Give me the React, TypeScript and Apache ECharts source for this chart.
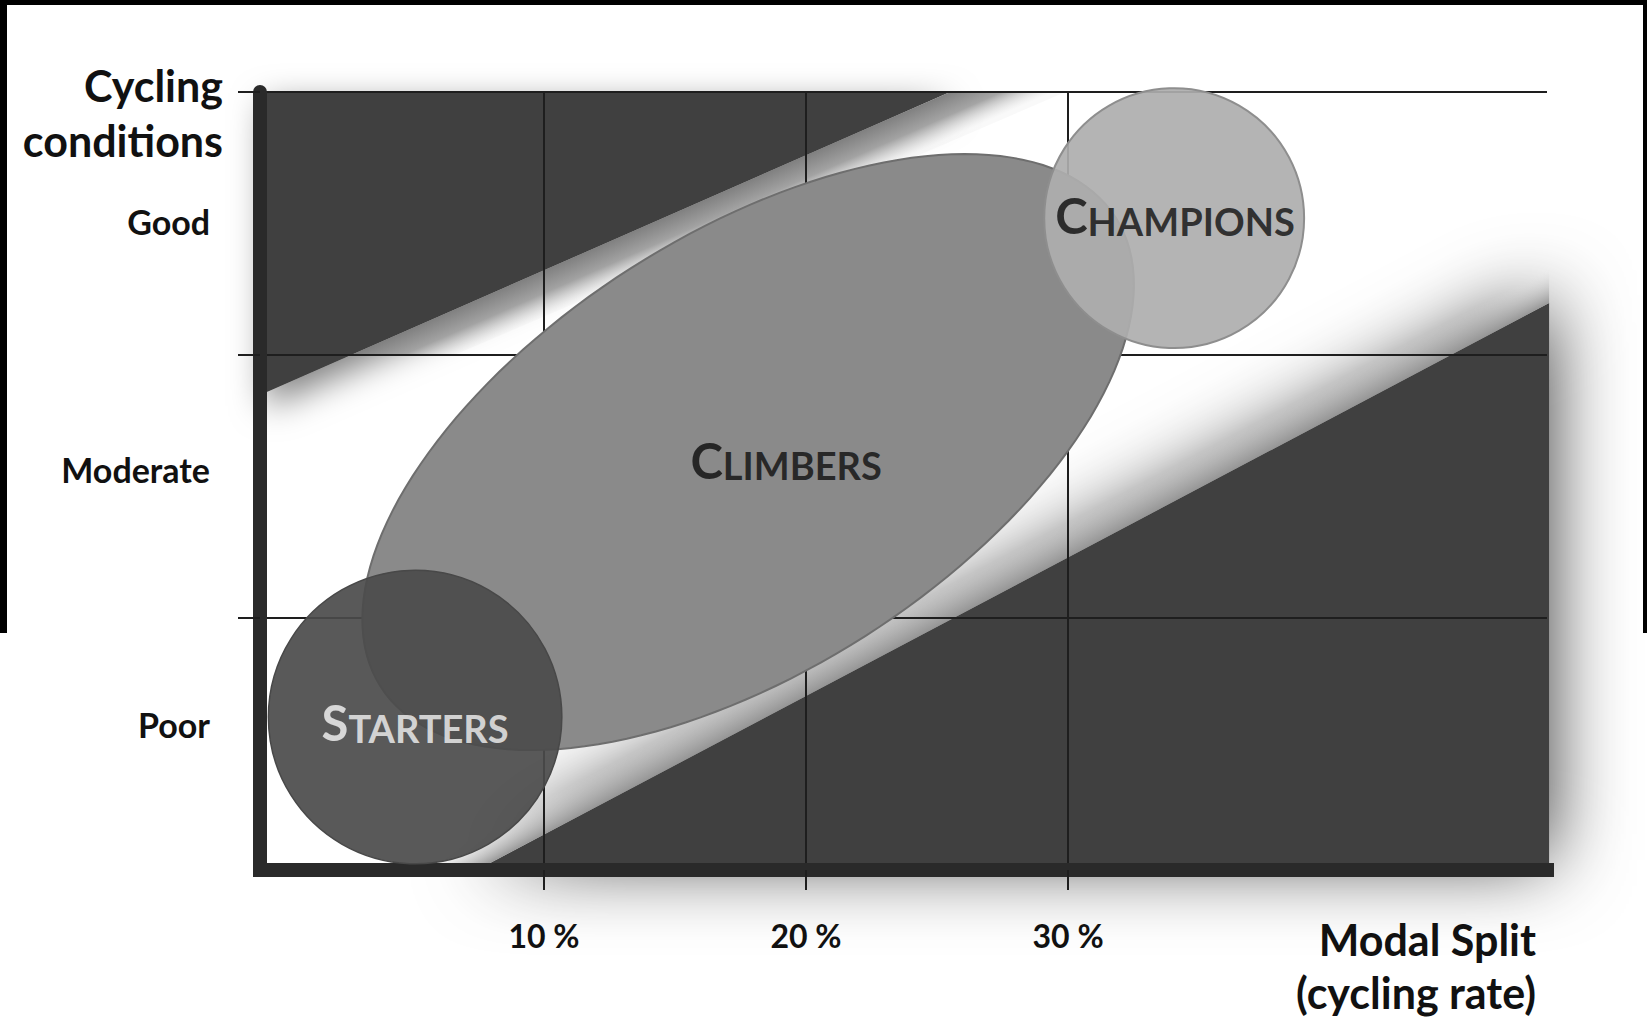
import React, { useEffect, useRef } from 'react';
import * as echarts from 'echarts';

const FONT = 'Lato';

// Axis ranges (x: modal split in %, y: cycling-condition level)
const X_MIN = -0.84;
const X_MAX = 48.28;
const Y_MIN = 0.04;
const Y_MAX = 3;
const rateTicks = [10, 20, 30];
const conditionTicks = [1, 2, 3];
const conditionLabels = ['Poor', 'Moderate', 'Good'];
const conditionLabelPos = [0.595, 1.565, 2.509];

// Dark zones and their soft edges (data units)
const upperZoneX = [-0.84, 25.5, -0.84];
const upperZoneY = [3, 3, 1.847];
const upperEdgeX = [2.65, 25.5, 29.9, 6.6];
const upperEdgeY = [2, 3, 3, 2];
const lowerZoneX = [7.44, 48.36, 48.36];
const lowerZoneY = [0.04, 2.197, 0.04];
const lowerEdgeX = [7.44, 48.36, 48.36, 4.92];
const lowerEdgeY = [0.04, 2.197, 2.33, 0.04];

// Groups
const groupLabels = ['CLIMBERS', 'STARTERS', 'CHAMPIONS'];
const climbersCenter = [17.79, 1.63];
const climbersMajor = [14.03, 0.892];
const climbersMinor = [-4.47, 0.7];
const startersCenter = [5.08, 0.622];
const startersRadius = 5.6;
const championsCenter = [34.05, 2.52];
const championsRadius = 4.96;
const groupLabelX = [19.24, 5.08, 34.08];
const groupLabelY = [1.6, 0.603, 2.532];
const groupLabelColors = ['#0d0d0d', '#f6f6f6', '#0d0d0d'];

export default function App() {
  const ref = useRef<HTMLDivElement>(null);

  useEffect(() => {
    const chart = echarts.init(ref.current!, undefined, { renderer: 'svg' });
    const textBase = { fontFamily: FONT, fontWeight: 'bold', color: '#111111' };
    const titleStyle = (text: string, size: number) => ({
      text,
      align: 'right',
      textAlign: 'right',
      verticalAlign: 'middle',
      textVerticalAlign: 'middle',
      fill: '#111',
      font: `bold ${size}px ${FONT}`,
    });

    const option: any = {
      animation: false,
      backgroundColor: '#ffffff',
      grid: { left: 260, top: 92, width: 1287, height: 778, containLabel: false },
      xAxis: {
        type: 'value',
        min: X_MIN,
        max: X_MAX,
        z: 3,
        axisLine: { show: true, onZero: false, lineStyle: { color: '#2a2a2a', width: 14, cap: 'square' } },
        axisTick: { show: true, customValues: rateTicks, length: 20, lineStyle: { color: '#1e1e1e', width: 2 } },
        axisLabel: {
          customValues: rateTicks,
          formatter: (v: number) => `${v} %`,
          margin: 65,
          verticalAlign: 'middle',
          fontSize: 32,
          ...textBase,
        },
        splitLine: { show: true, lineStyle: { color: '#1e1e1e', width: 2 } },
      },
      yAxis: {
        type: 'value',
        min: Y_MIN,
        max: Y_MAX,
        z: 3,
        axisLine: { show: true, onZero: false, lineStyle: { color: '#2a2a2a', width: 14 } },
        axisTick: { show: true, customValues: conditionTicks, length: 22, lineStyle: { color: '#1e1e1e', width: 2 } },
        axisLabel: {
          customValues: conditionLabelPos,
          formatter: (v: number) => {
            let best = 0;
            conditionLabelPos.forEach((p, i) => {
              if (Math.abs(p - v) < Math.abs(conditionLabelPos[best] - v)) best = i;
            });
            return conditionLabels[best];
          },
          margin: 50,
          align: 'right',
          verticalAlign: 'middle',
          fontSize: 34,
          ...textBase,
        },
        splitLine: { show: true, lineStyle: { color: '#1e1e1e', width: 2 } },
      },
      graphic: [
        { type: 'text', x: 223, y: 85, z: 50, style: titleStyle('Cycling', 43) },
        { type: 'text', x: 223, y: 140, z: 50, style: titleStyle('conditions', 43) },
        { type: 'text', x: 1536, y: 939, z: 50, style: titleStyle('Modal Split', 43) },
        { type: 'text', x: 1536, y: 992, z: 50, style: titleStyle('(cycling rate)', 43) },
        { type: 'rect', z: 100, shape: { x: 0, y: 0, width: 1647, height: 5 }, style: { fill: '#000' } },
        { type: 'rect', z: 100, shape: { x: 0, y: 0, width: 7, height: 633 }, style: { fill: '#000' } },
        { type: 'rect', z: 100, shape: { x: 1643, y: 0, width: 4, height: 633 }, style: { fill: '#000' } },
      ],
      series: [
        {
          type: 'custom',
          name: 'zones',
          z: 1,
          clip: false,
          silent: true,
          data: [
            [lowerZoneX[0], lowerZoneY[0]],
            [upperZoneX[0], upperZoneY[0]],
          ],
          renderItem: (params: any, api: any) => {
            const i = params.dataIndex;
            const xs = i === 0 ? lowerZoneX : upperZoneX;
            const ys = i === 0 ? lowerZoneY : upperZoneY;
            const points = xs.map((x, j) => api.coord([x, ys[j]]));
            const shadow =
              i === 0
                ? { shadowBlur: 80, shadowColor: 'rgba(0,0,0,0.8)', shadowOffsetX: 0, shadowOffsetY: -10 }
                : { shadowBlur: 34, shadowColor: 'rgba(0,0,0,0.5)', shadowOffsetX: 6, shadowOffsetY: 12 };
            return { type: 'polygon', shape: { points }, style: { fill: '#3f3f3f', ...shadow } };
          },
        },
        {
          type: 'custom',
          name: 'edges',
          z: 1,
          clip: false,
          silent: true,
          data: [
            [lowerEdgeX[0], lowerEdgeY[0]],
            [upperEdgeX[0], upperEdgeY[0]],
          ],
          renderItem: (params: any, api: any) => {
            const i = params.dataIndex;
            const xs = i === 0 ? lowerEdgeX : upperEdgeX;
            const ys = i === 0 ? lowerEdgeY : upperEdgeY;
            const pts = xs.map((x, j) => api.coord([x, ys[j]]));
            const p0 = pts[0];
            const p1 = pts[1];
            const p3 = pts[3];
            let nx = -(p1[1] - p0[1]);
            let ny = p1[0] - p0[0];
            const len = Math.hypot(nx, ny);
            nx /= len;
            ny /= len;
            const d = (p3[0] - p0[0]) * nx + (p3[1] - p0[1]) * ny;
            const stops =
              i === 0
                ? [
                    { offset: 0, color: 'rgba(150,150,150,0.95)' },
                    { offset: 1, color: 'rgba(230,230,230,0)' },
                  ]
                : [
                    { offset: 0, color: 'rgba(128,128,128,1)' },
                    { offset: 0.5, color: 'rgba(160,160,160,0.95)' },
                    { offset: 1, color: 'rgba(225,225,225,0.2)' },
                  ];
            const fill = new echarts.graphic.LinearGradient(
              p0[0], p0[1], p0[0] + nx * d, p0[1] + ny * d, stops, true
            );
            return { type: 'polygon', shape: { points: pts }, style: { fill } };
          },
        },
        {
          type: 'custom',
          name: 'groups',
          z: 5,
          clip: false,
          silent: true,
          data: [climbersCenter, startersCenter, championsCenter],
          renderItem: (params: any, api: any) => {
            const i = params.dataIndex;
            if (i === 0) {
              const pts: number[][] = [];
              const n = 160;
              for (let k = 0; k < n; k++) {
                const t = (k / n) * Math.PI * 2;
                pts.push(
                  api.coord([
                    climbersCenter[0] + Math.cos(t) * climbersMajor[0] + Math.sin(t) * climbersMinor[0],
                    climbersCenter[1] + Math.cos(t) * climbersMajor[1] + Math.sin(t) * climbersMinor[1],
                  ])
                );
              }
              return { type: 'polygon', shape: { points: pts }, style: { fill: '#8a8a8a', stroke: '#6e6e6e', lineWidth: 2 } };
            }
            const center = i === 1 ? startersCenter : championsCenter;
            const radius = i === 1 ? startersRadius : championsRadius;
            const p = api.coord(center);
            const r = api.size([radius, 0])[0];
            const style =
              i === 1
                ? { fill: 'rgba(75,75,75,0.92)', stroke: '#484848', lineWidth: 1.5 }
                : { fill: 'rgba(174,174,174,0.92)', stroke: '#8e8e8e', lineWidth: 2 };
            return { type: 'circle', shape: { cx: p[0], cy: p[1], r }, style };
          },
        },
        {
          type: 'scatter',
          name: 'labels',
          z: 6,
          silent: true,
          symbolSize: 2,
          itemStyle: { color: 'rgba(0,0,0,0)' },
          labelLayout: { hideOverlap: false },
          data: groupLabels.map((name, i) => ({
            value: [groupLabelX[i], groupLabelY[i]],
            label: {
              show: true,
              position: 'inside',
              formatter: `{a|${name[0]}}{b|${name.slice(1)}}`,
              rich: {
                a: { fontFamily: FONT, fontWeight: 'bold', fontSize: 49, lineHeight: 49, verticalAlign: 'bottom', color: groupLabelColors[i] },
                b: { fontFamily: FONT, fontWeight: 'bold', fontSize: 38, lineHeight: 42, verticalAlign: 'bottom', color: groupLabelColors[i] },
              },
            },
          })),
        },
      ],
    };

    chart.setOption(option);
    return () => chart.dispose();
  }, []);

  return (
    <div
      ref={ref}
      style={{ position: 'fixed', left: 0, top: 0, width: 1647, height: 1021, background: '#ffffff' }}
    />
  );
}
